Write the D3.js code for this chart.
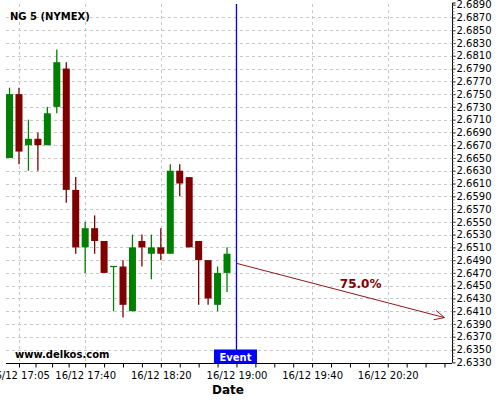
<!DOCTYPE html>
<html>
<head>
<meta charset="utf-8">
<script src="https://cdn.jsdelivr.net/npm/d3@7"></script>
<style>
  html, body { margin: 0; padding: 0; background: #fff; }
  svg { display: block; font-family: "DejaVu Sans", sans-serif; }
</style>
</head>
<body>
<svg id="chart" width="500" height="400"></svg>
<script>
// ---- data ----
const title = "NG 5 (NYMEX)";
const times = ["17:00","17:05","17:10","17:15","17:20","17:25","17:30","17:35","17:40","17:45","17:50","17:55",
               "18:00","18:05","18:10","18:15","18:20","18:25","18:30","18:35","18:40","18:45","18:50","18:55"];
const opens  = [2.665,2.675,2.667,2.668,2.667,2.673,2.679,2.660,2.651,2.654,2.652,2.6479,
                2.648,2.641,2.652,2.650,2.651,2.650,2.663,2.662,2.652,2.649,2.642,2.647];
const highs  = [2.676,2.676,2.671,2.669,2.673,2.682,2.680,2.662,2.655,2.656,2.652,2.648,
                2.649,2.653,2.653,2.653,2.654,2.664,2.664,2.662,2.652,2.649,2.648,2.651];
const lows   = [2.665,2.664,2.663,2.663,2.667,2.672,2.658,2.650,2.647,2.650,2.647,2.641,
                2.640,2.641,2.648,2.646,2.649,2.650,2.659,2.651,2.642,2.642,2.641,2.644];
const closes = [2.675,2.666,2.668,2.667,2.672,2.680,2.660,2.651,2.654,2.652,2.647,2.6481,
                2.642,2.651,2.651,2.651,2.650,2.663,2.661,2.651,2.649,2.643,2.647,2.650];
const majorTickTimes = ["17:05","17:40","18:20","19:00","19:40","20:20"];
const minorTickTimes = ["17:13:45","17:22:30","17:31:15","17:50","18:00","18:10","18:30","18:40","18:50",
                        "19:10","19:20","19:30","19:50","20:00","20:10","20:30","20:40","20:50"];
const xDomainTimes = ["16:58:08","20:53:58"];
const yDomain = [2.6330, 2.6890];
const yTickStep = 0.002;
const eventTime = "19:00";
const eventLabel = "Event";
const arrowStart = {time: "19:00", value: 2.6485};
const arrowEnd   = {time: "20:50", value: 2.6400};
const arrowLabel = "75.0%";
const watermark = "www.delkos.com";
const xAxisTitle = "Date";
const dayLabel = "16/12";

// ---- helpers ----
function t(s) {
  const p = s.split(":").map(Number);
  return new Date(2024, 11, 16, p[0], p[1], p[2] || 0);
}
const candles = times.map((tm, i) => ({time: t(tm), o: opens[i], h: highs[i], l: lows[i], c: closes[i]}));

const svg = d3.select("#chart");
const plot = {left: 6, right: 452, top: 4, bottom: 363};

const x = d3.scaleTime().domain(xDomainTimes.map(t)).range([plot.left, plot.right]);
const y = d3.scaleLinear().domain(yDomain).range([362.3, 4.7]);

const yTicks = d3.range(yDomain[0], yDomain[1] + 1e-9, yTickStep);
const yMinor = d3.range(yDomain[0], yDomain[1] + 1e-9, yTickStep / 4);

// grid
const grid = svg.append("g").attr("stroke", "#c8c8c8").attr("stroke-dasharray", "3,3").attr("stroke-width", 1);
grid.selectAll("line.h").data(yTicks.filter(v => v < yDomain[1] - 1e-9 && v > yDomain[0] + 1e-9)).join("line")
  .attr("x1", plot.left).attr("x2", plot.right)
  .attr("y1", d => Math.round(y(d)) + 0.5).attr("y2", d => Math.round(y(d)) + 0.5);
grid.selectAll("line.v").data(majorTickTimes.map(t)).join("line")
  .attr("x1", d => Math.round(x(d)) + 0.5).attr("x2", d => Math.round(x(d)) + 0.5)
  .attr("y1", plot.top).attr("y2", plot.bottom);

// title
svg.append("text").attr("x", 10).attr("y", 19.5)
  .attr("font-size", 10).attr("font-weight", "bold").attr("fill", "#000").text(title);

// candles
const bw = 7;
const cg = svg.append("g");
cg.selectAll("line.wick").data(candles).join("line")
  .attr("x1", d => x(d.time)).attr("x2", d => x(d.time))
  .attr("y1", d => y(d.h)).attr("y2", d => y(d.l))
  .attr("stroke", d => d.c >= d.o ? "#008000" : "#800000").attr("stroke-width", 1.3);
cg.selectAll("rect.body").data(candles).join("rect")
  .attr("x", d => x(d.time) - bw / 2)
  .attr("width", bw)
  .attr("y", d => y(Math.max(d.o, d.c)))
  .attr("height", d => Math.max(1, Math.abs(y(d.o) - y(d.c))))
  .attr("fill", d => d.c >= d.o ? "#008000" : "#800000");

// event line
const ex = x(t(eventTime));
svg.append("line").attr("x1", ex).attr("x2", ex).attr("y1", plot.top).attr("y2", plot.bottom)
  .attr("stroke", "#0000ff").attr("stroke-width", 1.3);

// arrow
const ax1 = x(t(arrowStart.time)), ay1 = y(arrowStart.value);
const ax2 = x(t(arrowEnd.time)), ay2 = y(arrowEnd.value);
const ac = "#8b1a1a";
svg.append("line").attr("x1", ax1).attr("y1", ay1).attr("x2", ax2).attr("y2", ay2)
  .attr("stroke", ac).attr("stroke-width", 1);
const ang = Math.atan2(ay2 - ay1, ax2 - ax1);
const hl = 11, ha = 0.45;
const head = [
  [ax2 - hl * Math.cos(ang - ha), ay2 - hl * Math.sin(ang - ha)],
  [ax2, ay2],
  [ax2 - hl * Math.cos(ang + ha), ay2 - hl * Math.sin(ang + ha)]
];
svg.append("path").attr("d", d3.line()(head)).attr("fill", "none").attr("stroke", ac).attr("stroke-width", 1);
const lf = 0.597;
svg.append("text")
  .attr("x", ax1 + (ax2 - ax1) * lf).attr("y", ay1 + (ay2 - ay1) * lf - 7.5)
  .attr("text-anchor", "middle").attr("font-size", 12).attr("font-weight", "bold")
  .attr("fill", "#800000").text(arrowLabel);

// watermark
svg.append("text").attr("x", 15).attr("y", 358).attr("font-size", 10).attr("font-weight", "bold")
  .attr("fill", "#000").text(watermark);

// event box
svg.append("rect").attr("x", ex - 22.5).attr("y", 349.5).attr("width", 43).attr("height", 14).attr("fill", "#0000ff");
svg.append("text").attr("x", ex - 1).attr("y", 360.5).attr("text-anchor", "middle")
  .attr("font-size", 10).attr("font-weight", "bold").attr("fill", "#fff").text(eventLabel);

// x axis
const fmt = d3.timeFormat("%H:%M");
const xAxis = d3.axisBottom(x).tickValues(majorTickTimes.map(t))
  .tickFormat(d => dayLabel + " " + fmt(d)).tickSize(4).tickPadding(4);
const gx = svg.append("g").attr("transform", `translate(0,${plot.bottom + 0.5})`).call(xAxis);
gx.select(".domain").attr("d", `M${plot.left},0H${plot.right}`).attr("stroke", "#000");
gx.selectAll("text").attr("font-size", 10).attr("font-family", "DejaVu Sans").attr("fill", "#000");
const xMinor = d3.axisBottom(x).tickValues(minorTickTimes.map(t)).tickFormat("").tickSize(4);
const gxm = svg.append("g").attr("transform", `translate(0,${plot.bottom + 0.5})`).call(xMinor);
gxm.select(".domain").remove();

// y axis (right)
const yAxis = d3.axisRight(y).tickValues(yTicks).tickFormat(d3.format(".4f")).tickSize(3).tickPadding(1);
const gy = svg.append("g").attr("transform", `translate(${plot.right + 0.5},0)`).call(yAxis);
gy.select(".domain").attr("d", `M3,${plot.top - 1}H0V${plot.bottom}`).attr("stroke", "#000");
gy.selectAll("text").attr("font-size", 10).attr("font-family", "DejaVu Sans").attr("fill", "#000");
const yMin = d3.axisRight(y).tickValues(yMinor).tickFormat("").tickSize(2);
const gym = svg.append("g").attr("transform", `translate(${plot.right + 0.5},0)`).call(yMin);
gym.select(".domain").remove();
gym.selectAll("line").attr("stroke", "#888");

// x axis title
svg.append("text").attr("x", 228).attr("y", 394).attr("text-anchor", "middle")
  .attr("font-size", 12).attr("font-weight", "bold").attr("fill", "#000").text(xAxisTitle);
</script>
</body>
</html>
